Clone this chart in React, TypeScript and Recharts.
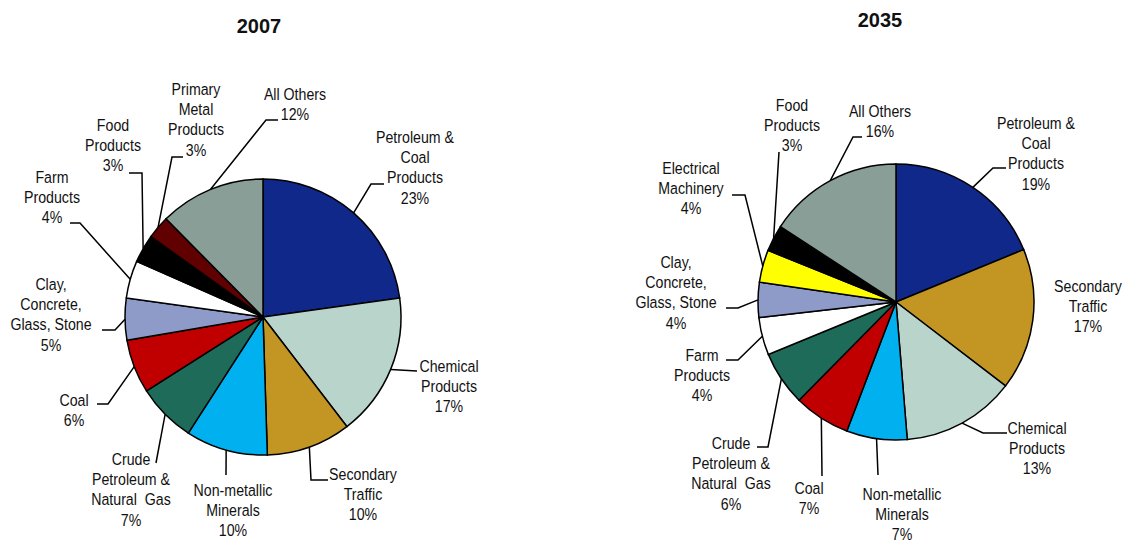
import { PieChart, Pie, Cell } from 'recharts';

// 2007 shares (clockwise from 12 o'clock)
const names2007 = [
  'Petroleum &|Coal|Products',
  'Chemical|Products',
  'Secondary|Traffic',
  'Non-metallic|Minerals',
  'Crude|Petroleum &|Natural  Gas',
  'Coal',
  'Clay,|Concrete,|Glass, Stone',
  'Farm|Products',
  'Food|Products',
  'Primary|Metal|Products',
  'All Others',
];
const values2007 = [22.8, 16.8, 9.9, 9.6, 6.9, 6.3, 4.9, 4.4, 3.3, 2.7, 12.4];
const colors2007 = ['#10288A', '#B9D5CB', '#C39522', '#00B0EF', '#1E6B5A', '#C00000', '#8E9BC9', '#FFFFFF', '#000000', '#600000', '#889E96'];

// 2035 shares
const names2035 = [
  'Petroleum &|Coal|Products',
  'Secondary|Traffic',
  'Chemical|Products',
  'Non-metallic|Minerals',
  'Coal',
  'Crude|Petroleum &|Natural  Gas',
  'Farm|Products',
  'Clay,|Concrete,|Glass, Stone',
  'Electrical|Machinery',
  'Food|Products',
  'All Others',
];
const values2035 = [18.8, 16.6, 13.3, 7.1, 6.6, 6.4, 4.4, 4.1, 3.8, 3.1, 15.8];
const colors2035 = ['#10288A', '#C39522', '#B9D5CB', '#00B0EF', '#C00000', '#1E6B5A', '#FFFFFF', '#8E9BC9', '#FFFF00', '#000000', '#889E96'];

// label placement relative to pie centre: text pos, optional elbow, leader end
type Lay = { t: [number, number]; b?: [number, number]; e?: [number, number] };
const layout2007: Lay[] = [
  { t: [152, -180], b: [108, -133], e: [121, -133] },
  { t: [186, 49], e: [154, 54] },
  { t: [100, 157], b: [48, 163], e: [65, 163] },
  { t: [-30, 173], e: [-37, 158] },
  { t: [-132, 142], e: [-107, 146] },
  { t: [-189, 83], b: [-155, 87], e: [-166, 87] },
  { t: [-212, -33], b: [-148, 13], e: [-161, 13] },
  { t: [-211, -140], b: [-183, -94], e: [-193, -94] },
  { t: [-150, -192], b: [-121, -144], e: [-134, -144] },
  { t: [-67, -228], b: [-91, -160], e: [-80, -160] },
  { t: [32, -223], b: [3, -197], e: [15, -197] },
];
const layout2035: Lay[] = [
  { t: [140, -179], b: [97, -134], e: [110, -134] },
  { t: [192, -16] },
  { t: [141, 126], b: [87, 131], e: [111, 131] },
  { t: [6, 192], e: [-18, 173] },
  { t: [-87, 186], e: [-74, 174] },
  { t: [-165, 141], b: [-128, 145], e: [-139, 145] },
  { t: [-194, 53], b: [-158, 58], e: [-170, 58] },
  { t: [-220, -40], b: [-158, 6], e: [-170, 6] },
  { t: [-205, -134], b: [-151, -107], e: [-164, -107] },
  { t: [-104, -197], e: [-117, -150] },
  { t: [-16, -191], b: [-43, -165], e: [-34, -165] },
];

const FONT = "'Liberation Sans', Arial, sans-serif";
const RAD = Math.PI / 180;

const makeLabel = (names: string[], lay: Lay[]) => (p: any) => {
  const { cx, cy, midAngle, outerRadius, percent, index } = p;
  const l = lay[index];
  const sx = cx + outerRadius * Math.cos(-midAngle * RAD);
  const sy = cy + outerRadius * Math.sin(-midAngle * RAD);
  const pts: [number, number][] = [[sx, sy]];
  if (l.b) pts.push([cx + l.b[0], cy + l.b[1]]);
  if (l.e) pts.push([cx + l.e[0], cy + l.e[1]]);
  const lines = [...names[index].split('|'), `${Math.round(percent * 100)}%`];
  const tx = cx + l.t[0];
  const ty = cy + l.t[1];
  return (
    <g key={`lbl-${index}`}>
      {l.e && (
        <polyline points={pts.map((q) => q.join(',')).join(' ')} fill="none" stroke="#000" strokeWidth={1.5} />
      )}
      <text
        transform={`translate(${tx},${ty}) scale(0.86,1)`}
        textAnchor="middle"
        fontFamily={FONT}
        fontSize={16.5}
        fill="#111"
        style={{ whiteSpace: 'pre' }}
      >
        {lines.map((s, i) => (
          <tspan key={i} x={0} y={i * 20.3} dominantBaseline="central">
            {s}
          </tspan>
        ))}
      </text>
    </g>
  );
};

const data2007 = names2007.map((n, i) => ({ name: n, value: values2007[i] }));
const data2035 = names2035.map((n, i) => ({ name: n, value: values2035[i] }));

const titleStyle = {
  position: 'absolute' as const,
  width: 100,
  textAlign: 'center' as const,
  fontFamily: FONT,
  fontWeight: 'bold' as const,
  fontSize: 20,
  lineHeight: '22px',
  color: '#111',
};

export default function App() {
  return (
    <div style={{ position: 'absolute', left: 0, top: 0, width: 1126, height: 540, background: '#fff', overflow: 'hidden' }}>
      <div style={{ ...titleStyle, left: 209, top: 15 }}>2007</div>
      <div style={{ ...titleStyle, left: 830, top: 9 }}>2035</div>
      <PieChart
        width={1126}
        height={540}
        margin={{ top: 0, right: 0, bottom: 0, left: 0 }}
        style={{ position: 'absolute', left: 0, top: 0 }}
      >
        <Pie
          data={data2007}
          dataKey="value"
          cx={263}
          cy={317}
          outerRadius={138}
          startAngle={90}
          endAngle={-270}
          stroke="#000"
          strokeWidth={1.5}
          label={makeLabel(names2007, layout2007)}
          labelLine={false}
          isAnimationActive={false}
        >
          {data2007.map((d, i) => (
            <Cell key={d.name + i} fill={colors2007[i]} />
          ))}
        </Pie>
        <Pie
          data={data2035}
          dataKey="value"
          cx={896}
          cy={302}
          outerRadius={138}
          startAngle={90}
          endAngle={-270}
          stroke="#000"
          strokeWidth={1.5}
          label={makeLabel(names2035, layout2035)}
          labelLine={false}
          isAnimationActive={false}
        >
          {data2035.map((d, i) => (
            <Cell key={d.name + i} fill={colors2035[i]} />
          ))}
        </Pie>
      </PieChart>
    </div>
  );
}
